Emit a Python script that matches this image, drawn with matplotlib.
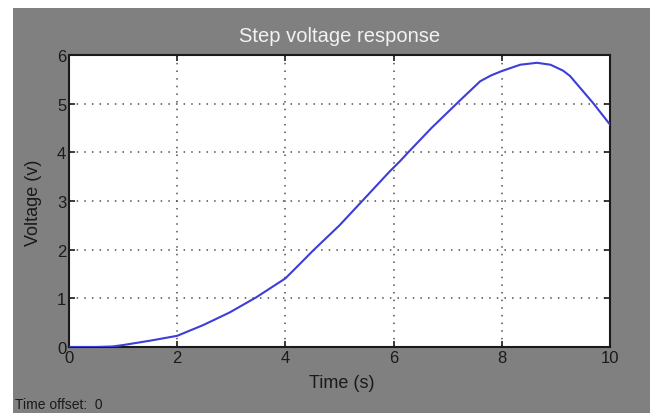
import matplotlib
matplotlib.use("Agg")
import matplotlib.pyplot as plt
from matplotlib.patches import Rectangle

# Data
time_s = [0, 0.5, 0.8, 1.0, 1.5, 2.0, 2.48, 2.97, 3.46, 4.0, 4.27, 4.51, 5.0, 5.42,
          5.93, 6.12, 6.27, 6.7, 7.23, 7.6, 7.8, 8.0, 8.34, 8.65, 8.9, 9.13, 9.26, 9.69, 10.0]
voltage_v = [0, 0, 0.01, 0.04, 0.13, 0.23, 0.45, 0.71, 1.02, 1.41, 1.71, 1.98, 2.5, 3.0,
             3.61, 3.82, 4.0, 4.5, 5.07, 5.46, 5.58, 5.67, 5.80, 5.84, 5.80, 5.68, 5.57, 5.01, 4.57]
x_ticks = [0, 2, 4, 6, 8, 10]
y_ticks = [0, 1, 2, 3, 4, 5, 6]
title = "Step voltage response"
xlabel = "Time (s)"
ylabel = "Voltage (v)"
footer = "Time offset:  0"

plt.rcParams['font.family'] = ['Liberation Sans', 'DejaVu Sans']

W, H = 658, 414
fig = plt.figure(figsize=(W / 100, H / 100), dpi=100)
fig.patch.set_facecolor('white')
gray = '#808080'
fig.patches.append(Rectangle((13 / W, 0), (650 - 13) / W, (414 - 9) / H,
                             transform=fig.transFigure, facecolor=gray,
                             edgecolor='none', zorder=-10))

ax = fig.add_axes([69 / W, (H - 348) / H, (610 - 69) / W, (348 - 56) / H])
ax.set_zorder(5)
ax.set_facecolor('white')
ax.plot(time_s, voltage_v, color='#3d3dd8', linewidth=1.5, zorder=3,
        solid_joinstyle='round')
ax.set_xlim(0, 10)
ax.set_ylim(0, 6)
ax.set_xticks(x_ticks)
ax.set_yticks(y_ticks)
ax.grid(True, color='#505050', linestyle=(0, (1, 4)), linewidth=1.1)
for s in ax.spines.values():
    s.set_color('#1a1a1a')
    s.set_linewidth(1.5)
ax.tick_params(direction='in', top=True, right=True, length=4, width=1.2,
               color='#1a1a1a', labelsize=12, labelcolor='#1a1a1a', pad=2)

fig.text((69 + 610) / 2 / W, 1 - 37 / H, title, ha='center', va='center',
         color='#f2f2f2', fontsize=14.5)
fig.text(342 / W, 1 - 384 / H, xlabel, ha='center', va='center',
         color='#1a1a1a', fontsize=13)
fig.text(34 / W, 1 - 203 / H, ylabel, ha='center', va='center', rotation=90,
         color='#1a1a1a', fontsize=13)
fig.text(15 / W, 1 - 405 / H, footer, ha='left', va='center',
         color='#1a1a1a', fontsize=10)

fig.savefig('out.png', dpi=100, facecolor=fig.get_facecolor())
